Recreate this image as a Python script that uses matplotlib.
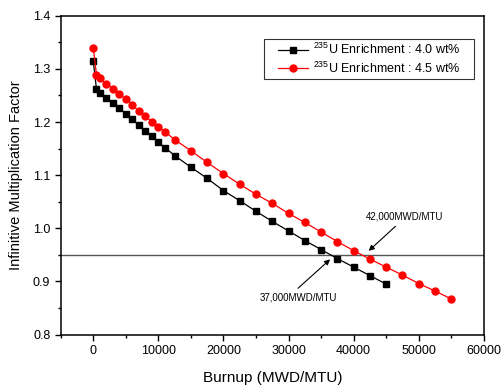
import numpy as np
import matplotlib
matplotlib.use('Agg')
import matplotlib.pyplot as plt
from matplotlib.ticker import MultipleLocator
from matplotlib.path import Path

plt.rcParams['font.family'] = ['Liberation Sans', 'DejaVu Sans']
plt.rcParams['mathtext.fontset'] = 'custom'
plt.rcParams['mathtext.rm'] = 'Liberation Sans'
plt.rcParams['mathtext.default'] = 'regular'

# burnup steps (MWD/MTU)
burnup_40 = [0, 500, 1000, 2000, 3000, 4000, 5000, 6000, 7000, 8000, 9000, 10000,
             11000, 12500, 15000, 17500, 20000, 22500, 25000, 27500, 30000, 32500,
             35000, 37500, 40000, 42500, 45000]
k_40 = [1.315, 1.262, 1.255, 1.246, 1.236, 1.226, 1.216, 1.205, 1.194, 1.183, 1.173, 1.162,
        1.152, 1.137, 1.115, 1.094, 1.071, 1.052, 1.032, 1.013, 0.995, 0.977,
        0.960, 0.943, 0.927, 0.911, 0.895]

burnup_45 = [0, 500, 1000, 2000, 3000, 4000, 5000, 6000, 7000, 8000, 9000, 10000,
             11000, 12500, 15000, 17500, 20000, 22500, 25000, 27500, 30000, 32500,
             35000, 37500, 40000, 42500, 45000, 47500, 50000, 52500, 55000]
k_45 = [1.340, 1.289, 1.282, 1.272, 1.263, 1.253, 1.243, 1.232, 1.221, 1.211, 1.201, 1.191,
        1.182, 1.167, 1.146, 1.124, 1.103, 1.083, 1.064, 1.047, 1.028, 1.011,
        0.993, 0.975, 0.958, 0.942, 0.927, 0.912, 0.896, 0.882, 0.867]

k_limit = 0.95


# legend frame a bit wider than tall, like the original
def wide_box(x0, y0, width, height, mutation_size):
    px = 0.85 * mutation_size
    x1 = x0 + width + px
    x0 = x0 - px
    y1 = y0 + height
    return Path([(x0, y0), (x1, y0), (x1, y1), (x0, y1), (x0, y0)], closed=True)


fig = plt.figure(figsize=(5.04, 3.85), dpi=100)
ax = fig.add_axes([0.1204, 0.131, 0.8396, 0.828])

ax.axhline(k_limit, color='#555555', linewidth=1.0, zorder=1)
ax.plot(burnup_40, k_40, color='black', linewidth=0.9, marker='s', markersize=4.5,
        label=r'$^{235}$U Enrichment : 4.0 wt%', zorder=3)
ax.plot(burnup_45, k_45, color='red', linewidth=0.9, marker='o', markersize=5,
        label=r'$^{235}$U Enrichment : 4.5 wt%', zorder=3)

ax.annotate('42,000MWD/MTU', xy=(42000, 0.954), xytext=(47800, 1.022),
            fontsize=7, ha='center', va='center',
            arrowprops=dict(arrowstyle='-|>', color='black', lw=0.8, mutation_scale=8,
                            relpos=(0.45, 0.0)))
ax.annotate('37,000MWD/MTU', xy=(36700, 0.945), xytext=(31500, 0.869),
            fontsize=7, ha='center', va='center',
            arrowprops=dict(arrowstyle='-|>', color='black', lw=0.8, mutation_scale=8,
                            relpos=(0.43, 1.0)))

ax.set_xlim(-5000, 60000)
ax.set_ylim(0.8, 1.4)
ax.xaxis.set_major_locator(MultipleLocator(10000))
ax.xaxis.set_minor_locator(MultipleLocator(5000))
ax.yaxis.set_major_locator(MultipleLocator(0.1))
ax.yaxis.set_minor_locator(MultipleLocator(0.05))
ax.tick_params(which='major', length=4, width=1, labelsize=9)
ax.tick_params(which='minor', length=2.5, width=1)
ax.yaxis.set_major_formatter(plt.FuncFormatter(lambda v, p: f'{v:.1f}'))
for s in ax.spines.values():
    s.set_linewidth(1.1)

ax.set_xlabel('Burnup (MWD/MTU)', fontsize=11, labelpad=10)
ax.set_ylabel('Infinitive Multiplication Factor', fontsize=10.5, labelpad=7)

leg = ax.legend(loc='upper right', bbox_to_anchor=(0.951, 0.927), fontsize=9,
                frameon=True, fancybox=False, handlelength=2.4, borderpad=0.25,
                labelspacing=0.25, handletextpad=0.4, borderaxespad=0)
leg.legendPatch.set_boxstyle(wide_box)
leg.get_frame().set_edgecolor('black')
leg.get_frame().set_linewidth(0.8)

fig.savefig('out.png', dpi=100)
